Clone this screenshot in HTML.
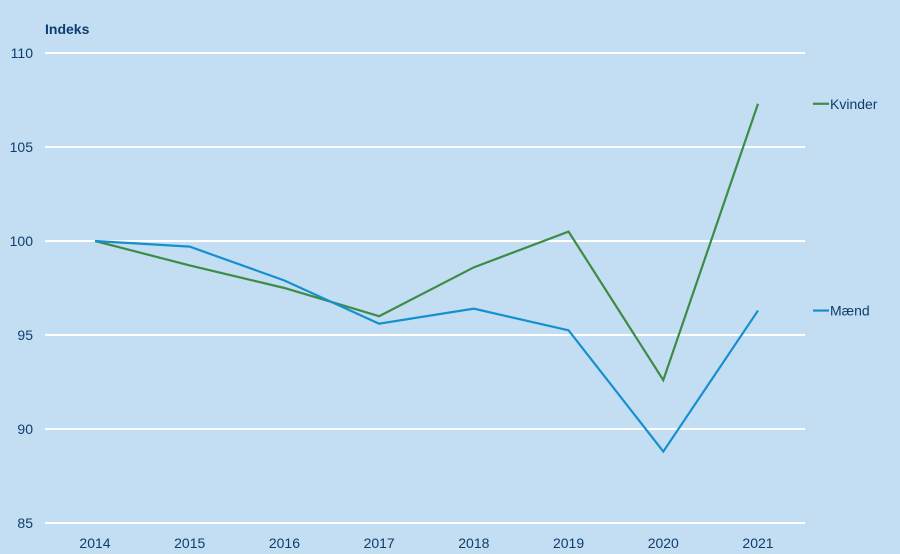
<!DOCTYPE html>
<html><head><meta charset="utf-8"><style>
html,body{margin:0;padding:0;background:#c3ddf3;}
svg{display:block;font-family:"Liberation Sans",sans-serif;}
</style></head><body>
<svg id="chart" width="900" height="554">
<rect width="900" height="554" fill="#c3ddf3"/>
<text x="45" y="34" font-size="14" font-weight="bold" fill="#0d3e6c">Indeks</text>
<g id="grid"></g><g id="xt"></g><g id="series"></g>
</svg>
<script>
const years=[2014,2015,2016,2017,2018,2019,2020,2021];
const kvinder=[100,98.7,97.5,96.0,98.6,100.5,92.6,107.3];
const maend=[100,99.7,97.9,95.6,96.4,95.25,88.8,96.3];
const yTicks=[85,90,95,100,105,110];
const NS="http://www.w3.org/2000/svg";
const x=i=>95+i*(758-95)/7;
const y=v=>523-(v-85)*(470/25);
function mk(t,a,p){const e=document.createElementNS(NS,t);for(const k in a)e.setAttribute(k,a[k]);p.appendChild(e);return e;}
const grid=document.getElementById('grid');
yTicks.forEach(v=>{
 const l=mk('line',{x1:45,x2:805,y1:y(v),y2:y(v),stroke:'#ffffff','stroke-width':2},grid);
 
 
 const t=mk('text',{x:33,y:y(v)+5,'text-anchor':'end','font-size':14,fill:'#0d3e6c'},grid);
 t.textContent=v;
 
 
});
const xt=document.getElementById('xt');
years.forEach((yr,i)=>{
 const t=mk('text',{x:x(i),y:548,'text-anchor':'middle','font-size':14,fill:'#0d3e6c'},xt);
 t.textContent=yr;
 
 
});
const sg=document.getElementById('series');
[[kvinder,'#3d8b46','Kvinder'],[maend,'#1490d0','Mænd']].forEach(([d,c,n])=>{
 const p=mk('polyline',{points:d.map((v,i)=>x(i)+','+y(v)).join(' '),fill:'none',stroke:c,'stroke-width':2.2},sg);
 
 
 const ly=y(d[d.length-1]);
 const ll=mk('line',{x1:813,x2:829,y1:ly,y2:ly,stroke:c,'stroke-width':2.2},sg);
 
 
 const lt=mk('text',{x:830,y:ly+5,'font-size':14,fill:'#0d3e6c'},sg);
 lt.textContent=n;
 
 
});
</script>
</body></html>
